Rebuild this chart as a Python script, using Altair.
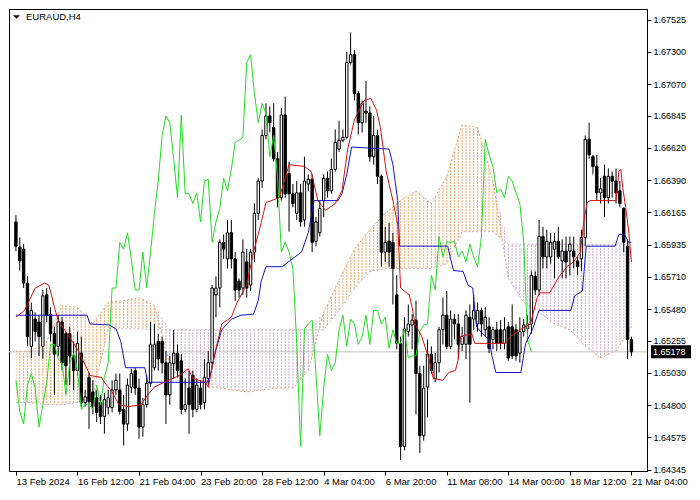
import altair as alt
import pandas as pd

# ---------------- data (EURAUD H4) ----------------
bar_open = [1.66096,1.65918,1.65904,1.65664,1.65217,1.65409,1.65389,1.65217,1.65581,1.65444,
            1.65307,1.65217,1.65389,1.65307,1.65307,1.65149,1.65046,1.65169,1.64819,1.64997,
            1.64895,1.64853,1.64819,1.64722,1.64784,1.64784,1.64909,1.64909,1.64771,1.64668,
            1.64929,1.65046,1.64922,1.64647,1.64805,1.64956,1.65066,1.65252,1.65252,1.65101,
            1.64874,1.65094,1.65169,1.65115,1.64771,1.64922,1.65011,1.64771,1.64922,1.64819,
            1.64990,1.65101,1.65581,1.65629,1.65952,1.65835,1.66020,1.65835,1.65677,1.65629,
            1.65814,1.65650,1.65883,1.66157,1.66385,1.66707,1.66845,1.66763,1.66543,1.66268,
            1.66852,1.66439,1.66295,1.66157,1.66302,1.66110,1.66364,1.66398,1.65959,1.66020,
            1.66247,1.66405,1.66316,1.66467,1.66611,1.66673,1.66694,1.67223,1.67278,1.67003,
            1.66797,1.66879,1.66866,1.66557,1.66707,1.66419,1.65883,1.65959,1.65952,1.65581,
            1.65238,1.64509,1.65321,1.65368,1.65402,1.65025,1.64585,1.64929,1.65162,1.64990,
            1.65101,1.65334,1.65437,1.65217,1.65409,1.65375,1.65231,1.65231,1.65423,1.65409,
            1.65375,1.65471,1.65334,1.65355,1.65265,1.65334,1.65334,1.65238,1.65355,1.65355,
            1.65334,1.65169,1.65321,1.65341,1.65375,1.65712,1.65615,1.65993,1.65849,1.65849,
            1.65904,1.65959,1.65821,1.65890,1.65890,1.65890,1.65821,1.65835,1.65986,1.66680,
            1.66557,1.66488,1.66302,1.66419,1.66268,1.66419,1.66385,1.66316,1.66192,1.65925,
            1.65265]
bar_high = [1.66144,1.65986,1.65939,1.65712,1.65527,1.65458,1.65437,1.65615,1.65629,1.65492,
            1.65355,1.65437,1.65423,1.65321,1.65355,1.65252,1.65321,1.65286,1.64909,1.65032,
            1.64977,1.64909,1.64874,1.64888,1.64909,1.64977,1.65025,1.65025,1.64874,1.64990,
            1.65059,1.65066,1.64990,1.64853,1.65011,1.65389,1.65375,1.65307,1.65286,1.65183,
            1.65149,1.65334,1.65231,1.65162,1.64990,1.65046,1.65046,1.64990,1.64977,1.65128,
            1.65183,1.65650,1.65712,1.65973,1.66007,1.66110,1.66110,1.65883,1.65698,1.65973,
            1.65904,1.65904,1.66226,1.66405,1.66749,1.66934,1.66913,1.66934,1.66591,1.66900,
            1.66982,1.66522,1.66364,1.66385,1.66364,1.66557,1.66432,1.66432,1.66130,1.66247,
            1.66432,1.66453,1.66543,1.66749,1.66811,1.66749,1.67298,1.67436,1.67312,1.67024,
            1.66955,1.67092,1.66913,1.66845,1.66749,1.66432,1.66062,1.66089,1.66020,1.65719,
            1.65286,1.65423,1.65513,1.65444,1.65540,1.65080,1.65080,1.65265,1.65217,1.65169,
            1.65355,1.65561,1.65608,1.65471,1.65444,1.65444,1.65355,1.65471,1.65513,1.65581,
            1.65527,1.65492,1.65492,1.65423,1.65355,1.65389,1.65402,1.65423,1.65389,1.65513,
            1.65375,1.65423,1.65409,1.65437,1.65746,1.65746,1.66110,1.66062,1.66041,1.66020,
            1.66020,1.66062,1.65973,1.65993,1.65993,1.65993,1.65849,1.66041,1.66707,1.66797,
            1.66570,1.66570,1.66405,1.66501,1.66474,1.66453,1.66474,1.66385,1.66199,1.65973,
            1.65286]
bar_low = [1.65890,1.65753,1.65629,1.65217,1.65135,1.65252,1.65149,1.65128,1.65389,1.65252,
           1.64874,1.65149,1.65046,1.64943,1.64943,1.64909,1.65011,1.64791,1.64791,1.64634,
           1.64736,1.64681,1.64668,1.64599,1.64736,1.64750,1.64874,1.64736,1.64516,1.64620,
           1.64888,1.64874,1.64565,1.64578,1.64784,1.64929,1.65046,1.65046,1.65025,1.64668,
           1.64805,1.64990,1.64997,1.64736,1.64750,1.64599,1.64715,1.64750,1.64771,1.64771,
           1.64943,1.65066,1.65423,1.65492,1.65835,1.65767,1.65767,1.65540,1.65561,1.65581,
           1.65561,1.65608,1.65814,1.66110,1.66337,1.66680,1.66728,1.66522,1.66199,1.66247,
           1.66268,1.66027,1.66199,1.66110,1.66062,1.66062,1.66316,1.65883,1.65925,1.65993,
           1.66130,1.66268,1.66295,1.66453,1.66591,1.66659,1.66680,1.67209,1.66955,1.66714,
           1.66728,1.66797,1.66522,1.66501,1.66364,1.65780,1.65814,1.65780,1.65513,1.65196,
           1.64414,1.64482,1.65286,1.65196,1.64736,1.64462,1.64551,1.64715,1.65025,1.64963,
           1.65032,1.65231,1.65196,1.65196,1.65265,1.65128,1.65183,1.65128,1.64819,1.65334,
           1.65321,1.65286,1.65286,1.65169,1.65196,1.65183,1.65196,1.65196,1.65115,1.65128,
           1.65115,1.65101,1.65286,1.65252,1.65307,1.65581,1.65581,1.65767,1.65767,1.65801,
           1.65698,1.65835,1.65698,1.65698,1.65719,1.65767,1.65719,1.65746,1.65925,1.66543,
           1.66432,1.66247,1.66226,1.66130,1.66226,1.66268,1.66226,1.66199,1.65883,1.65128,
           1.65149]
bar_close = [1.65925,1.65821,1.65664,1.65286,1.65471,1.65321,1.65286,1.65574,1.65437,1.65307,
             1.65162,1.65389,1.65101,1.65080,1.65149,1.65046,1.65238,1.64819,1.64860,1.64826,
             1.64791,1.64750,1.64722,1.64840,1.64853,1.64909,1.64977,1.64757,1.64668,1.64943,
             1.65025,1.64922,1.64647,1.64805,1.64956,1.65231,1.65231,1.65128,1.65101,1.64874,
             1.65101,1.65169,1.65046,1.64771,1.64805,1.64805,1.64771,1.64943,1.64805,1.64997,
             1.65101,1.65629,1.65629,1.65952,1.65904,1.66020,1.65835,1.65615,1.65615,1.65883,
             1.65629,1.65883,1.66157,1.66385,1.66707,1.66845,1.66797,1.66543,1.66268,1.66852,
             1.66295,1.66295,1.66226,1.66302,1.66096,1.66385,1.66398,1.65952,1.66096,1.66192,
             1.66405,1.66316,1.66467,1.66659,1.66673,1.66694,1.67223,1.67278,1.67003,1.66797,
             1.66934,1.66866,1.66557,1.66707,1.66419,1.65883,1.65952,1.65883,1.65767,1.65238,
             1.64509,1.65341,1.65375,1.65402,1.65025,1.64585,1.64922,1.65162,1.65046,1.65101,
             1.65334,1.65437,1.65217,1.65409,1.65375,1.65231,1.65286,1.65437,1.65231,1.65471,
             1.65471,1.65375,1.65423,1.65203,1.65334,1.65238,1.65238,1.65334,1.65135,1.65149,
             1.65149,1.65321,1.65368,1.65375,1.65719,1.65615,1.65993,1.65849,1.65959,1.65952,
             1.65959,1.65849,1.65890,1.65814,1.65939,1.65849,1.65780,1.65986,1.66680,1.66570,
             1.66488,1.66302,1.66330,1.66268,1.66419,1.66385,1.66302,1.66226,1.65952,1.65265,
             1.65178]

# Tenkan-sen (red) vertices: bar position, price
tenkan_bar = [0,2.25,5,7.5,8.5,9.25,10,11,16,17.25,18.5,19.25,22.25,23,25,26.75,29.25,32.5,34.25,36,
              38.5,42.5,44.75,46,49.25,50,51.75,53.5,56,57.5,60,61.75,63.5,65,68.5,71,75,76.75,78.5,80.5,
              83,84.75,86.25,88,90.5,92.25,93.75,94.75,96.25,98,99.25,100,102.25,103,103.75,105.5,107.5,
              108.5,111,112.5,114.25,115,115.5,118.5,119.25,127.25,128.5,131,133.75,135.5,136.25,138.75,
              141.25,143.5,145,146.75,147.5,148.5,149.25,156,156.75,157.25,157.75,158.5,159.25,160]
tenkan_val = [1.65423,1.65471,1.65629,1.65664,1.65650,1.65581,1.65492,1.65402,1.65196,1.65128,1.65059,
              1.65011,1.64997,1.64963,1.64895,1.64805,1.64791,1.64805,1.64874,1.64929,1.64963,1.65011,
              1.65059,1.64990,1.64963,1.64929,1.65169,1.65375,1.65423,1.65527,1.65650,1.65883,1.66062,
              1.66233,1.66268,1.66501,1.66488,1.66453,1.66247,1.66178,1.66226,1.66316,1.66611,1.66818,
              1.66955,1.66969,1.66886,1.66763,1.66453,1.66247,1.66076,1.65629,1.65581,1.65492,1.65375,
              1.65286,1.65115,1.64990,1.64977,1.65032,1.65046,1.65128,1.65286,1.65307,1.65238,1.65238,
              1.65286,1.65334,1.65375,1.65561,1.65595,1.65595,1.65712,1.65787,1.65814,1.65883,1.66076,
              1.66233,1.66247,1.66247,1.66453,1.66467,1.66337,1.66199,1.66041,1.65814]

# Kijun-sen (blue) vertices
kijun_bar = [0,18.5,19.25,24.25,26,27.25,28.5,33.5,34.25,49.75,50.5,51.75,53.5,56,58.5,61.75,63,63.75,
             65,69.25,72.5,74.25,76,77.5,83.75,84.75,86,87.25,97,98,99.25,99.75,112.25,113,113.75,116.25,
             117.5,118.75,119.75,121.25,123,123.75,124.75,131.25,132.5,134.25,136,144.25,145.25,147.25,
             148.25,155.75,156.75,158.25,159.25,160]
kijun_val = [1.65437,1.65437,1.65375,1.65368,1.65341,1.65252,1.65066,1.65066,1.64963,1.64963,1.65011,
             1.65169,1.65334,1.65409,1.65437,1.65444,1.65540,1.65677,1.65780,1.65780,1.65849,1.65883,
             1.66020,1.66247,1.66247,1.66295,1.66432,1.66625,1.66611,1.66501,1.66247,1.65925,1.65925,
             1.65835,1.65753,1.65746,1.65650,1.65629,1.65355,1.65307,1.65265,1.65149,1.65032,1.65032,
             1.65238,1.65334,1.65471,1.65471,1.65574,1.65608,1.65925,1.65925,1.66007,1.66007,1.65952,
             1.65952]

# Senkou spans (cloud), every 4 bars
cloud_bar = [0,4,8,12,16,20,24,28,32,36,40,44,48,52,56,60,64,68,72,76,80,84,88,92,96,100,
             104,108,112,116,120,124,128,132,136,140,144,148,152,156,160]
span_a = [1.65183,1.65183,1.65252,1.65506,1.65492,1.65375,1.65527,1.65540,1.65561,1.65506,1.65080,
          1.64943,1.64922,1.64929,1.64909,1.64895,1.64909,1.64922,1.64922,1.65046,1.65458,1.65684,
          1.65904,1.66041,1.66157,1.66247,1.66316,1.66226,1.66419,1.66783,1.66763,1.66385,1.65698,
          1.65527,1.65458,1.65375,1.65334,1.65217,1.65135,1.65183,1.65355]
span_b = [1.64819,1.64819,1.64805,1.64805,1.64819,1.64874,1.65341,1.65341,1.65341,1.65334,1.65334,
          1.65334,1.65334,1.65334,1.65334,1.65334,1.65334,1.65334,1.65334,1.65334,1.65334,1.65471,
          1.65629,1.65746,1.65767,1.65767,1.65767,1.65767,1.65801,1.66027,1.66027,1.66027,1.65939,
          1.65939,1.65939,1.65939,1.65939,1.65939,1.65939,1.65939,1.65939]

chikou_shift = 26
last_price = 1.65178
symbol_title = "EURAUD,H4"

x_tick_bars = [0,16,32,48,64,80,96,112,128,144,160]
x_tick_labels = ["13 Feb 2024","16 Feb 12:00","21 Feb 04:00","23 Feb 20:00","28 Feb 12:00",
                 "4 Mar 04:00","6 Mar 20:00","11 Mar 08:00","14 Mar 00:00","18 Mar 12:00","21 Mar 04:00"]
y_ticks = [1.64345,1.64575,1.64800,1.65030,1.65255,1.65480,1.65710,1.65935,
           1.66165,1.66390,1.66620,1.66845,1.67070,1.67300,1.67525]

# ---------------- tables ----------------
n_bars = len(bar_open)
bars = pd.DataFrame({"i": list(range(n_bars)), "open": bar_open, "high": bar_high,
                     "low": bar_low, "close": bar_close})
bars["lo"] = bars[["open", "close"]].min(axis=1)
bars["hi"] = bars[["open", "close"]].max(axis=1)
bars["fillc"] = ["white" if c >= o else "black" for o, c in zip(bar_open, bar_close)]

chikou = pd.DataFrame({"i": [k - chikou_shift for k in range(chikou_shift, n_bars)],
                       "v": bar_close[chikou_shift:]})
tenkan = pd.DataFrame({"i": tenkan_bar, "v": tenkan_val})
kijun = pd.DataFrame({"i": kijun_bar, "v": kijun_val})
cloud = pd.DataFrame({"i": cloud_bar, "a": span_a, "b": span_b})
price_df = pd.DataFrame({"p": [last_price], "t": [f"{last_price:.5f}"]})
title_df = pd.DataFrame({"t": [symbol_title]})
hatch_df = pd.DataFrame({"i": list(range(n_bars))})   # one hatch column per bar slot

# ---------------- scales / axes ----------------
W, H = 638, 462
FONT = "Liberation Sans"
XS = alt.Scale(domain=[-0.5, 162.75], nice=False, zero=False)
YS = alt.Scale(domain=[1.64336, 1.67601], nice=False, zero=False)
label_expr = "[" + ",".join("'" + s + "'" for s in x_tick_labels) + "][round(datum.value/16)]"
XA = alt.Axis(values=x_tick_bars, labelExpr=label_expr, labelAlign="left", labelFlush=False,
              labelOverlap=False, labelBound=False, tickSize=4, tickColor="black",
              domainColor="black", labelColor="black", labelFont=FONT, labelFontSize=9.5,
              labelPadding=1, grid=False, title=None)
YA = alt.Axis(orient="right", values=y_ticks, format=".5f", tickSize=4, tickColor="black",
              domainColor="black", labelColor="black", labelFont=FONT, labelFontSize=9,
              labelPadding=2, grid=False, labelFlush=False, labelOverlap=False, title=None)


def X(f):
    return alt.X(f, type="quantitative", scale=XS, axis=XA, title=None)


def Y(f):
    return alt.Y(f, type="quantitative", scale=YS, axis=YA, title=None)


# ---------------- layers ----------------
# cloud: solid colour, then masked with white into a dotted vertical hatch
cloud_base = alt.Chart(cloud).transform_calculate(top="max(datum.a, datum.b)")
sandy = cloud_base.mark_area(color="#f4a460", opacity=0.85).encode(x=X("i"), y=Y("top:Q"), y2="b:Q")
thistle = cloud_base.mark_area(color="#d4b8d4", opacity=1).encode(x=X("i"), y=Y("top:Q"), y2="a:Q")
mask_cols = alt.Chart(hatch_df).transform_calculate(m="datum.i + 0.5").mark_rule(
    color="white", strokeWidth=2.7).encode(x=X("m:Q"), y=alt.value(1), y2=alt.value(H - 1))
mask_dots = alt.Chart(hatch_df).mark_rule(
    color="white", strokeWidth=1.8, strokeDash=[1, 2]).encode(
    x=X("i"), y=alt.value(1), y2=alt.value(H - 1))
line_a = alt.Chart(cloud).mark_line(color="#e8a070", strokeWidth=1, strokeDash=[2, 2]).encode(
    x=X("i"), y=Y("a"))
line_b = alt.Chart(cloud).mark_line(color="#c8b0c8", strokeWidth=1, strokeDash=[2, 2]).encode(
    x=X("i"), y=Y("b"))

bid = alt.Chart(price_df).mark_rule(color="#c0c0c0", strokeWidth=1).encode(y=Y("p"))

wicks = alt.Chart(bars).mark_rule(color="black", strokeWidth=1).encode(
    x=X("i"), y=Y("low"), y2="high")
bodies = alt.Chart(bars).mark_bar(size=2.4, stroke="black", strokeWidth=1).encode(
    x=X("i"), y=Y("lo"), y2="hi", fill=alt.Fill("fillc:N", scale=None))

chikou_l = alt.Chart(chikou).mark_line(color="#22dd22", strokeWidth=1).encode(x=X("i"), y=Y("v"))
kijun_l = alt.Chart(kijun).mark_line(color="#1414c8", strokeWidth=1).encode(x=X("i"), y=Y("v"))
tenkan_l = alt.Chart(tenkan).mark_line(color="#d81010", strokeWidth=1).encode(x=X("i"), y=Y("v"))

tri = alt.Chart(title_df).mark_point(shape="M-1,-0.5L1,-0.5L0,0.5Z", filled=True, color="black",
                                     size=49, opacity=1).encode(x=alt.value(7.5), y=alt.value(8))
title_t = alt.Chart(title_df).mark_text(align="left", baseline="middle", font=FONT, fontSize=9.5,
                                        color="black").encode(x=alt.value(17), y=alt.value(8), text="t:N")

pbox = alt.Chart(price_df).mark_tick(orient="horizontal", size=40, thickness=13, color="black",
                                     opacity=1).encode(x=alt.value(W + 24), y=Y("p"))
ptext = alt.Chart(price_df).mark_text(align="left", baseline="middle", font=FONT, fontSize=9,
                                      color="white").encode(x=alt.value(W + 6), y=Y("p"), text="t:N")

chart = alt.layer(
    sandy, thistle, mask_cols, mask_dots, line_a, line_b, bid, wicks, bodies,
    chikou_l, kijun_l, tenkan_l, tri, title_t, pbox, ptext
).properties(
    width=W, height=H, padding=0, background="white"
).configure_view(stroke="black", strokeWidth=1)

chart.save("out.html", embed_options={"renderer": "svg", "actions": False})
